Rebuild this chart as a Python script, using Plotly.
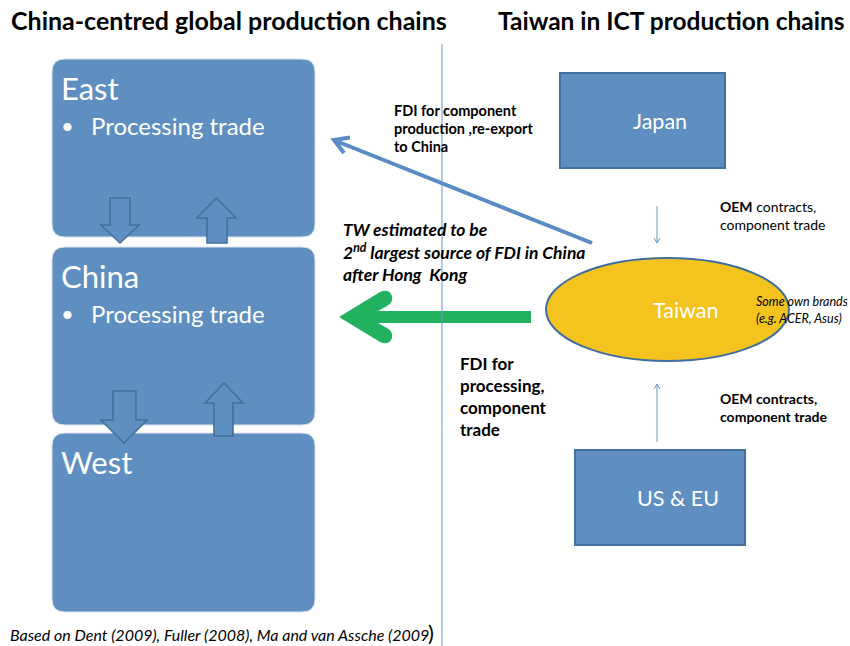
import plotly.graph_objects as go

# ---------------- content (text / labels) ----------------
titles = ["China-centred global production chains", "Taiwan in ICT production chains"]
region_names = ["East", "China", "West"]
region_bullets = ["Processing trade", "Processing trade", None]
partner_names = ["Japan", "US & EU"]
hub_name = "Taiwan"
hub_note = ["Some own brands", "(e.g. ACER, Asus)"]
oem_top = ["<b>OEM</b> contracts,", "component trade"]
oem_bottom = ["<b>OEM contracts,</b>", "<b>component trade</b>"]
fdi_component = ["FDI for component", "production ,re-export", "to China"]
tw_note = ["TW estimated to be", "2<sup>nd</sup> largest source of FDI in China", "after Hong  Kong"]
fdi_processing = ["FDI for", "processing,", "component", "trade"]
source_note = "Based on Dent (2009), Fuller (2008), Ma and van Assche (2009"

# ---------------- styling ----------------
W, H = 850, 646
FONT = "Lato"
BOX = "#5F8FC1"
EDGE = "#41719C"
LINEBLUE = "#6A98CC"
ARROWBLUE = "#5A8BC4"
GREEN = "#22B15E"
YELLOW = "#F5C31E"

# region box geometry (pixel space)
region_boxes = [(52, 59, 315, 237), (52, 247, 315, 425), (52, 433, 315, 612)]


def rrect(x0, y0, x1, y1, r):
    return (f"M{x0+r},{y0} L{x1-r},{y0} Q{x1},{y0} {x1},{y0+r} L{x1},{y1-r} "
            f"Q{x1},{y1} {x1-r},{y1} L{x0+r},{y1} Q{x0},{y1} {x0},{y1-r} "
            f"L{x0},{y0+r} Q{x0},{y0} {x0+r},{y0} Z")


def block_arrow(a, b, base, hb, c, d, tip):
    mid = (c + d) / 2
    return (f"M{a},{base} L{b},{base} L{b},{hb} L{d},{hb} L{mid},{tip} "
            f"L{c},{hb} L{a},{hb} Z")


shapes = []
for (x0, y0, x1, y1) in region_boxes:
    shapes.append(dict(type="path", path=rrect(x0, y0, x1, y1, 13),
                       fillcolor=BOX, line=dict(color="#D6E2F0", width=1), layer="below"))

# block arrows between regions
block_arrows = [
    (110, 130, 198, 225, 101, 139, 243),   # down East->China
    (207, 227, 243, 218, 197, 236, 198),   # up China->East
    (113, 136, 391, 420, 101, 147, 443),   # down China->West
    (214, 233, 436, 403, 205, 243, 383),   # up West->China
]
for ba in block_arrows:
    shapes.append(dict(type="path", path=block_arrow(*ba), fillcolor=BOX,
                       line=dict(color=EDGE, width=1.6)))

# partner boxes
partner_boxes = [(560, 73, 725, 168), (575, 450, 745, 545)]
for (x0, y0, x1, y1) in partner_boxes:
    shapes.append(dict(type="rect", x0=x0, y0=y0, x1=x1, y1=y1, fillcolor=BOX,
                       line=dict(color=EDGE, width=2)))

# Taiwan ellipse
shapes.append(dict(type="circle", x0=546, y0=258, x1=789, y1=361, fillcolor=YELLOW,
                   line=dict(color="#3F6E9E", width=2)))

# green thick arrow
green_path = ("M339,317 L380,292 Q389,288 392,296 Q393,303 387,306 L378,311 L531,311 "
              "L531,323 L378,323 L387,328 Q393,331 392,338 Q389,346 380,342 Z")
shapes.append(dict(type="path", path=green_path, fillcolor=GREEN, line=dict(width=0)))

# blue diagonal arrow (Taiwan -> East)
shapes.append(dict(type="line", x0=592, y0=243, x1=336, y1=141,
                   line=dict(color=ARROWBLUE, width=4)))
shapes.append(dict(type="path", path="M344,153 L334,140 L350,137.5",
                   line=dict(color=ARROWBLUE, width=4)))

# thin OEM arrows
shapes.append(dict(type="line", x0=657, y0=206, x1=657, y1=243,
                   line=dict(color=LINEBLUE, width=1)))
shapes.append(dict(type="path", path="M654,238 L657,243 L660,238",
                   line=dict(color=LINEBLUE, width=1)))
shapes.append(dict(type="line", x0=657, y0=442, x1=657, y1=384,
                   line=dict(color=LINEBLUE, width=1)))
shapes.append(dict(type="path", path="M654,389 L657,384 L660,389",
                   line=dict(color=LINEBLUE, width=1)))

# divider
shapes.append(dict(type="line", x0=442, y0=44, x1=442, y1=646,
                   line=dict(color=LINEBLUE, width=1)))

annotations = []


def txt(x, y, text, size, color="black", xanchor="left", family=FONT):
    annotations.append(dict(x=x, y=y, xref="x", yref="y", text=text, showarrow=False,
                            xanchor=xanchor, yanchor="middle",
                            font=dict(family=family, size=size, color=color)))


# titles
txt(229, 20, f"<b>{titles[0]}</b>", 25, xanchor="center")
txt(671, 20, f"<b>{titles[1]}</b>", 24.5, xanchor="center")

# region labels
for (x0, y0, x1, y1), name, bullet in zip(region_boxes, region_names, region_bullets):
    txt(59, y0 + 29, name, 31, color="white")
    if bullet:
        txt(59, y0 + 66, "\u2022", 22, color="white")
        txt(89, y0 + 66, bullet, 24, color="white")

# partner labels
for (x0, y0, x1, y1), name, cx in zip(partner_boxes, partner_names, [660, 678]):
    txt(cx, (y0 + y1) / 2, name, 21.5, color="white", xanchor="center")

txt(686, 310, hub_name, 21.5, color="white", xanchor="center")
for i, line in enumerate(hub_note):
    txt(754, 301 + 17 * i, f"<i>{line}</i>", 12.5)

for i, line in enumerate(oem_top):
    txt(718, 206 + 18 * i, line, 14)
for i, line in enumerate(oem_bottom):
    txt(718, 398 + 18 * i, line, 14)

for i, line in enumerate(fdi_component):
    txt(392, 110 + 18 * i, f"<b>{line}</b>", 14.5)

for i, line in enumerate(tw_note):
    txt(341, 229 + 22.5 * i, f"<b><i>{line}</i></b>", 17.5)

for i, line in enumerate(fdi_processing):
    txt(458, 363 + 22 * i, f"<b>{line}</b>", 17)

txt(8, 634, f"<i>{source_note}</i>", 16)
txt(426, 632, ")", 22)

fig = go.Figure()
fig.update_layout(
    width=W, height=H, margin=dict(l=0, r=0, t=0, b=0),
    paper_bgcolor="white", plot_bgcolor="white",
    xaxis=dict(range=[0, W], visible=False, fixedrange=True),
    yaxis=dict(range=[H, 0], visible=False, fixedrange=True),
    shapes=shapes, annotations=annotations, showlegend=False,
)
fig.write_html("out.html", config={"displayModeBar": False},
               post_script="document.body.style.margin='0';document.body.style.overflow='hidden';")
